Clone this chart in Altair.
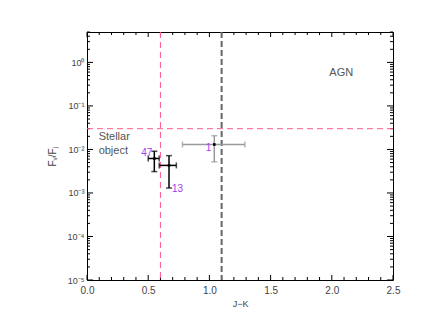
import altair as alt
import pandas as pd

# ---- data ----
names = ["47", "13", "1"]
jk = [0.55, 0.67, 1.04]
jk_lo = [0.50, 0.59, 0.78]
jk_hi = [0.59, 0.73, 1.29]
ratio = [6.2e-3, 4.3e-3, 1.3e-2]
ratio_lo = [3.1e-3, 1.3e-3, 5.2e-3]
ratio_hi = [9.1e-3, 7.2e-3, 2.07e-2]
point_colors = ["#000000", "#000000", "#999999"]

x_ticks_major = [0.0, 0.5, 1.0, 1.5, 2.0, 2.5]
y_ticks_major = [1e-5, 1e-4, 1e-3, 1e-2, 1e-1, 1.0]
y_tick_labels = ["10\u207b\u2075", "10\u207b\u2074", "10\u207b\u00b3", "10\u207b\u00b2", "10\u207b\u00b9", "10\u2070"]

stellar_jk_cut = 0.6
agn_jk_cut = 1.1
ratio_cut = 0.03

W, H = 306, 248
FONT = "Liberation Sans"
TXT = "#444444"
PINK = "#ff5c8a"
PURPLE = "#a040f0"

df = pd.DataFrame({"name": names, "jk": jk, "jk_lo": jk_lo, "jk_hi": jk_hi,
                   "r": ratio, "r_lo": ratio_lo, "r_hi": ratio_hi})

xs = alt.Scale(domain=[0, 2.5], nice=False, zero=False)
ys = alt.Scale(type="log", domain=[1e-5, 5], nice=False)
cs = alt.Scale(domain=names, range=point_colors)

label_expr = "[" + ",".join("'%s'" % s for s in y_tick_labels) + "][round(log(datum.value)/LN10)+5]"

x_axis = alt.Axis(values=x_ticks_major, format=".1f", ticks=False, domain=False, grid=False,
                  labelFlush=False, labelPadding=5, title="J\u2212K", titlePadding=4,
                  labelFont=FONT, titleFont=FONT, labelColor=TXT, titleColor=TXT,
                  labelFontSize=10, titleFontSize=9, titleFontWeight="normal")
y_axis = alt.Axis(values=y_ticks_major, labelExpr=label_expr, ticks=False, domain=False, grid=False,
                  labelFlush=False, labelPadding=3, title="F\u1d65/F\u2c7c", titlePadding=10,
                  labelFont=FONT, titleFont=FONT, labelColor=TXT, titleColor=TXT,
                  labelFontSize=9, titleFontSize=10, titleFontWeight="normal")

# base (carries axes)
base = alt.Chart(df).mark_point(opacity=0).encode(
    x=alt.X("jk:Q", scale=xs, axis=x_axis),
    y=alt.Y("r:Q", scale=ys, axis=y_axis),
)

# minor/major ticks (inward), positioned through the scales
y_minor = [k * 10.0 ** d for d in range(-5, 1) for k in range(2, 10) if k * 10.0 ** d <= 5]
x_minor = [round(i * 0.1, 1) for i in range(1, 25) if i % 5 != 0]

def yticks(vals, length):
    d = pd.DataFrame({"v": vals})
    l = alt.Chart(d).mark_rule(color="#000000", strokeWidth=1).encode(
        y=alt.Y("v:Q", scale=ys), x=alt.value(0), x2=alt.value(length))
    r = alt.Chart(d).mark_rule(color="#000000", strokeWidth=1).encode(
        y=alt.Y("v:Q", scale=ys), x=alt.value(W - length), x2=alt.value(W))
    return l + r

def xticks(vals, length):
    d = pd.DataFrame({"v": vals})
    b = alt.Chart(d).mark_rule(color="#000000", strokeWidth=1).encode(
        x=alt.X("v:Q", scale=xs), y=alt.value(H), y2=alt.value(H - length))
    t = alt.Chart(d).mark_rule(color="#000000", strokeWidth=1).encode(
        x=alt.X("v:Q", scale=xs), y=alt.value(0), y2=alt.value(length))
    return b + t

ticks = yticks(y_ticks_major, 6) + yticks(y_minor, 3) + xticks(x_ticks_major, 5) + xticks(x_minor, 3)

# reference lines
vpink = alt.Chart(pd.DataFrame({"v": [stellar_jk_cut]})).mark_rule(
    color=PINK, strokeDash=[6, 4], strokeWidth=1).encode(x=alt.X("v:Q", scale=xs))
vgray = alt.Chart(pd.DataFrame({"v": [agn_jk_cut]})).mark_rule(
    color="#666666", strokeDash=[6, 3], strokeWidth=2).encode(x=alt.X("v:Q", scale=xs))
hpink = alt.Chart(pd.DataFrame({"v": [ratio_cut]})).mark_rule(
    color=PINK, strokeDash=[6, 4], strokeWidth=1).encode(y=alt.Y("v:Q", scale=ys))

# error bars
col = alt.Color("name:N", scale=cs, legend=None)
xerr = alt.Chart(df).mark_rule(strokeWidth=1.5).encode(
    x=alt.X("jk_lo:Q", scale=xs), x2="jk_hi:Q", y=alt.Y("r:Q", scale=ys), color=col)
yerr = alt.Chart(df).mark_rule(strokeWidth=1.5).encode(
    x=alt.X("jk:Q", scale=xs), y=alt.Y("r_lo:Q", scale=ys), y2="r_hi:Q", color=col)
cap_xlo = alt.Chart(df).mark_tick(orient="vertical", size=6, thickness=1.5).encode(
    x=alt.X("jk_lo:Q", scale=xs), y=alt.Y("r:Q", scale=ys), color=col)
cap_xhi = alt.Chart(df).mark_tick(orient="vertical", size=6, thickness=1.5).encode(
    x=alt.X("jk_hi:Q", scale=xs), y=alt.Y("r:Q", scale=ys), color=col)
cap_ylo = alt.Chart(df).mark_tick(orient="horizontal", size=6, thickness=1.5).encode(
    x=alt.X("jk:Q", scale=xs), y=alt.Y("r_lo:Q", scale=ys), color=col)
cap_yhi = alt.Chart(df).mark_tick(orient="horizontal", size=6, thickness=1.5).encode(
    x=alt.X("jk:Q", scale=xs), y=alt.Y("r_hi:Q", scale=ys), color=col)
pts = alt.Chart(df).mark_square(size=7, color="#000000", opacity=1).encode(
    x=alt.X("jk:Q", scale=xs), y=alt.Y("r:Q", scale=ys))

# point labels
def lab(name, dx, dy, align):
    return alt.Chart(df[df.name == name]).mark_text(
        color=PURPLE, font=FONT, fontSize=10, dx=dx, dy=dy, align=align, baseline="middle").encode(
        x=alt.X("jk:Q", scale=xs), y=alt.Y("r:Q", scale=ys), text="name:N")

labels = lab("47", -2, -5, "right") + lab("13", 3, 24, "left") + lab("1", -3, 4, "right")

# annotation text
ann = pd.DataFrame({"x": [0.095, 0.095, 1.98], "y": [0.019, 0.0091, 0.56],
                    "t": ["Stellar", "object", "AGN"]})
anns = alt.Chart(ann).mark_text(color="#555555", font=FONT, fontSize=11, align="left",
                                baseline="middle").encode(
    x=alt.X("x:Q", scale=xs), y=alt.Y("y:Q", scale=ys), text="t:N")

chart = alt.layer(
    base, ticks, vpink, vgray, hpink, xerr, yerr, cap_xlo, cap_xhi, cap_ylo, cap_yhi, pts, labels, anns
).properties(
    width=W, height=H,
    autosize=alt.AutoSizeParams(type="none"),
    padding={"left": 79, "top": 24, "right": 35, "bottom": 30},
    background="white",
).configure_view(stroke="#000000", strokeWidth=1)

chart.save("out.html", embed_options={"renderer": "svg", "actions": False})
